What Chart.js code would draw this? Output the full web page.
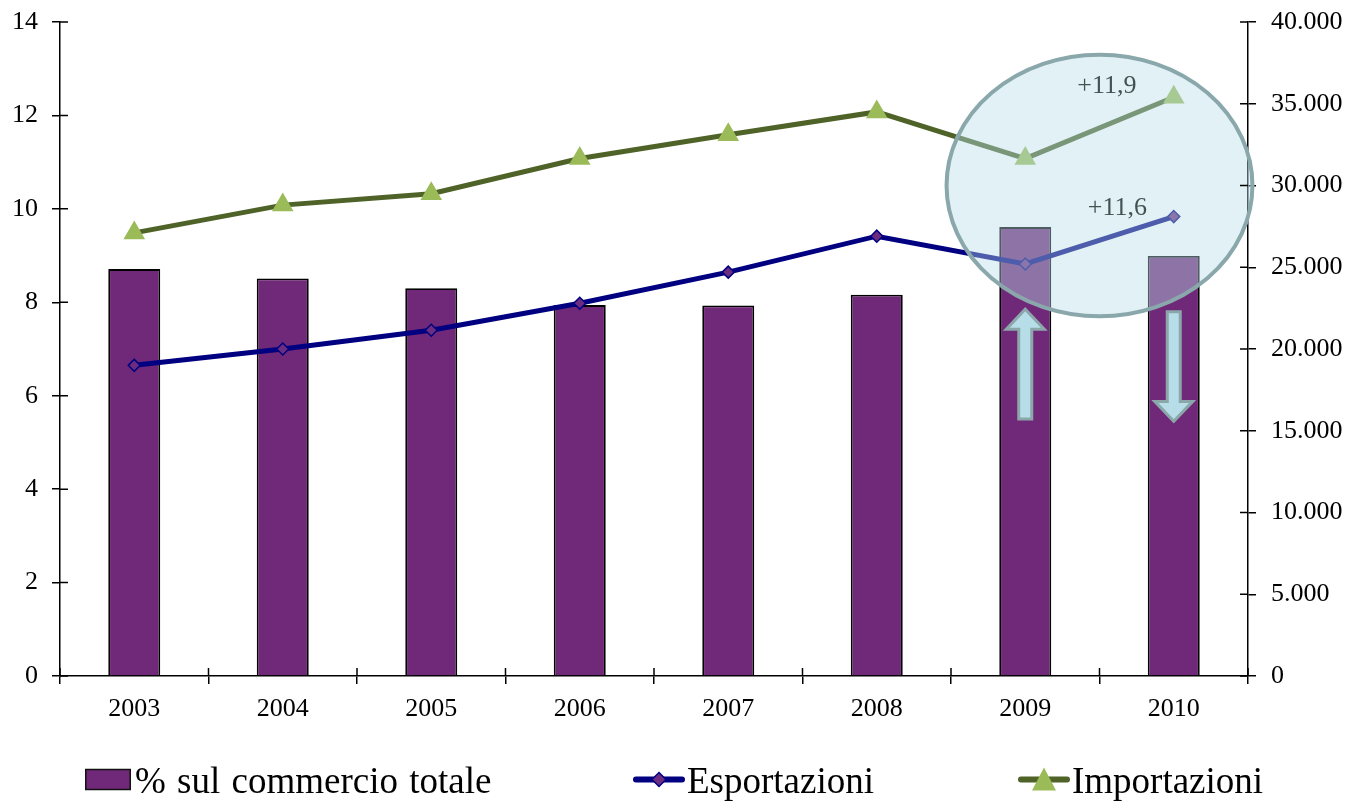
<!DOCTYPE html>
<html>
<head>
<meta charset="utf-8">
<script src="https://cdn.jsdelivr.net/npm/chart.js@4.4.1/dist/chart.umd.min.js"></script>
<style>
  body { margin: 0; background: #fff; }
  #wrap { position: relative; width: 1350px; height: 801px; }
  #legend { position: absolute; left: 0; top: 0; width: 1350px; height: 801px; pointer-events: none;
            font-family: "Liberation Serif", "Times New Roman", serif; font-size: 37px; color: #000; }
  .item { position: absolute; top: 762px; height: 37px; line-height: 37px; white-space: nowrap; }
  .item svg { position: absolute; top: 0; }
  .item span { position: absolute; top: 0; }
</style>
</head>
<body>
<div id="wrap">
  <canvas id="canvas" width="1350" height="801"></canvas>
  <div id="legend"></div>
</div>
<script>
// anni
var anni = ["2003","2004","2005","2006","2007","2008","2009","2010"];
// % sul commercio totale (asse sinistro)
var quota = [8.71, 8.51, 8.30, 7.94, 7.93, 8.16, 9.61, 8.99];
// Esportazioni / Importazioni (asse destro)
var esportazioni = [19000, 20000, 21150, 22800, 24700, 26900, 25200, 28100];
var importazioni = [27100, 28800, 29500, 31650, 33100, 34500, 31650, 35400];
var nomiSerie = ["% sul commercio totale", "Esportazioni", "Importazioni"];

var FONT = '"Liberation Serif", "Times New Roman", serif';

function puntiMigliaia(v) {
    return String(v).replace(/\B(?=(\d{3})+(?!\d))/g, ".");
}

// tacche che attraversano gli assi (la parte interna)
var tacchePlugin = {
    id: 'tacche',
    afterDraw: function(chart) {
        var ctx = chart.ctx, a = chart.chartArea;
        ctx.save();
        ctx.strokeStyle = '#000';
        ctx.lineWidth = 1.5;
        ctx.beginPath();
        chart.scales.y.ticks.forEach(function(t) {
            var py = chart.scales.y.getPixelForValue(t.value);
            ctx.moveTo(a.left, py); ctx.lineTo(a.left + 8, py);
        });
        chart.scales.y1.ticks.forEach(function(t) {
            var py = chart.scales.y1.getPixelForValue(t.value);
            ctx.moveTo(a.right, py); ctx.lineTo(a.right - 8, py);
        });
        var x = chart.scales.x, w = x.getPixelForValue(1) - x.getPixelForValue(0);
        for (var i = 0; i <= anni.length; i++) {
            var px = x.getPixelForValue(0) - w / 2 + i * w;
            ctx.moveTo(px, a.bottom); ctx.lineTo(px, a.bottom - 8);
        }
        ctx.stroke();
        ctx.restore();
    }
};

function freccia(ctx, cx, yBase, yPunta) {
    var dir = yPunta < yBase ? -1 : 1;
    var sw = 6.5, hw = 19, hl = 20;
    var yCollo = yPunta - dir * hl;
    ctx.beginPath();
    ctx.moveTo(cx - sw, yBase);
    ctx.lineTo(cx - sw, yCollo);
    ctx.lineTo(cx - hw, yCollo);
    ctx.lineTo(cx, yPunta);
    ctx.lineTo(cx + hw, yCollo);
    ctx.lineTo(cx + sw, yCollo);
    ctx.lineTo(cx + sw, yBase);
    ctx.closePath();
    ctx.fillStyle = '#b7dee8';
    ctx.fill();
    ctx.lineWidth = 3;
    ctx.strokeStyle = '#8ba7aa';
    ctx.stroke();
}

// ellisse, frecce e variazioni 2009-2010
var evidenziaPlugin = {
    id: 'evidenzia',
    afterDatasetsDraw: function(chart) {
        var ctx = chart.ctx;
        var x = chart.scales.x, yL = chart.scales.y, yR = chart.scales.y1;
        var w = x.getPixelForValue(1) - x.getPixelForValue(0);
        var x09 = x.getPixelForValue(6), x10 = x.getPixelForValue(7);
        var cx = (x09 + x10) / 2, cy = yR.getPixelForValue(30000);
        var ry = yR.getPixelForValue(22000) - cy;
        ctx.save();
        ctx.beginPath();
        ctx.ellipse(cx, cy, w * 1.03, ry, 0, 0, Math.PI * 2);
        ctx.fillStyle = 'rgba(183,222,232,0.42)';
        ctx.fill();
        ctx.lineWidth = 4;
        ctx.strokeStyle = '#8aa8ac';
        ctx.stroke();

        freccia(ctx, x09, yL.getPixelForValue(5.5), yL.getPixelForValue(7.85));
        freccia(ctx, x10, yL.getPixelForValue(7.8), yL.getPixelForValue(5.45));

        ctx.fillStyle = '#435353';
        ctx.font = '26px ' + FONT;
        ctx.textAlign = 'center';
        ctx.textBaseline = 'middle';
        ctx.fillText('+11,9', x09 + 0.55 * w, yR.getPixelForValue(36100));
        ctx.fillText('+11,6', x09 + 0.62 * w, yR.getPixelForValue(28600));
        ctx.restore();
    }
};

var barChartData = {
    labels: anni,
    datasets: [
        {
            type: 'bar',
            label: nomiSerie[0],
            data: quota,
            yAxisID: 'y',
            backgroundColor: '#702878',
            borderColor: '#000',
            borderWidth: 1.8,
            barPercentage: 0.35,
            categoryPercentage: 1,
            order: 3
        },
        {
            type: 'line',
            label: nomiSerie[1],
            data: esportazioni,
            yAxisID: 'y1',
            borderColor: '#000080',
            borderWidth: 5,
            tension: 0,
            pointStyle: 'rectRot',
            pointRadius: 6,
            pointBackgroundColor: '#6c2c80',
            pointBorderColor: '#000080',
            pointBorderWidth: 1.5,
            order: 2
        },
        {
            type: 'line',
            label: nomiSerie[2],
            data: importazioni,
            yAxisID: 'y1',
            borderColor: '#4f6228',
            borderWidth: 5,
            tension: 0,
            pointStyle: 'triangle',
            pointRadius: 12.5,
            pointBackgroundColor: '#9bbb59',
            pointBorderWidth: 0,
            order: 1
        }
    ]
};

var tickFont = { family: FONT, size: 26 };

var complexChartOption = {
    responsive: false,
    animation: false,
    layout: { padding: { top: 22, bottom: 70, left: 0, right: 0 } },
    plugins: { legend: { display: false }, tooltip: { enabled: false } },
    scales: {
        x: {
            offset: true,
            grid: { offset: true, drawOnChartArea: false, color: '#000', lineWidth: 1.5, tickLength: 8 },
            border: { color: '#000', width: 1.5 },
            ticks: { color: '#000', font: tickFont, padding: 10, maxRotation: 0 },
            afterFit: function(s) { s.height = 55; }
        },
        y: {
            position: 'left',
            min: 0, max: 14,
            ticks: { stepSize: 2, color: '#000', font: tickFont, padding: 14 },
            grid: { drawOnChartArea: false, color: '#000', lineWidth: 1.5, tickLength: 8 },
            border: { color: '#000', width: 1.5 },
            afterFit: function(s) { s.width = 60; s.paddingTop = 0; s.paddingBottom = 0; }
        },
        y1: {
            position: 'right',
            min: 0, max: 40000,
            ticks: { stepSize: 5000, color: '#000', font: tickFont, padding: 15,
                     callback: function(v) { return puntiMigliaia(v); } },
            grid: { drawOnChartArea: false, color: '#000', lineWidth: 1.5, tickLength: 8 },
            border: { color: '#000', width: 1.5 },
            afterFit: function(s) { s.width = 102; s.paddingTop = 0; s.paddingBottom = 0; }
        }
    }
};

function creaLegenda() {
    var el = document.getElementById('legend');
    var html = '';
    // barra
    html += '<div class="item" style="left:85px">' +
        '<svg width="46" height="37" style="left:0"><rect x="0.75" y="7.5" width="44.5" height="20" fill="#702878" stroke="#111" stroke-width="1.5"/></svg>' +
        '<span style="left:50px;word-spacing:2px">' + nomiSerie[0] + '</span></div>';
    // esportazioni
    html += '<div class="item" style="left:633px">' +
        '<svg width="52" height="37" style="left:0"><line x1="3" y1="17.5" x2="49" y2="17.5" stroke="#000080" stroke-width="6" stroke-linecap="round"/>' +
        '<polygon points="26,10.5 33,17.5 26,24.5 19,17.5" fill="#6c2c80" stroke="#000080" stroke-width="1.5"/></svg>' +
        '<span style="left:54px">' + nomiSerie[1] + '</span></div>';
    // importazioni
    html += '<div class="item" style="left:1018px">' +
        '<svg width="52" height="37" style="left:0"><line x1="3" y1="17.5" x2="49" y2="17.5" stroke="#4f6228" stroke-width="6" stroke-linecap="round"/>' +
        '<polygon points="26,5.5 38,28.5 14,28.5" fill="#9bbb59"/></svg>' +
        '<span style="left:54px">' + nomiSerie[2] + '</span></div>';
    el.innerHTML = html;
}

window.onload = function() {
    var ctx = document.getElementById("canvas").getContext("2d");
    window.myBar = new Chart(ctx, {
        type: 'bar',
        data: barChartData,
        options: complexChartOption,
        plugins: [evidenziaPlugin, tacchePlugin]
    });
    creaLegenda();
};
</script>
</body>
</html>
